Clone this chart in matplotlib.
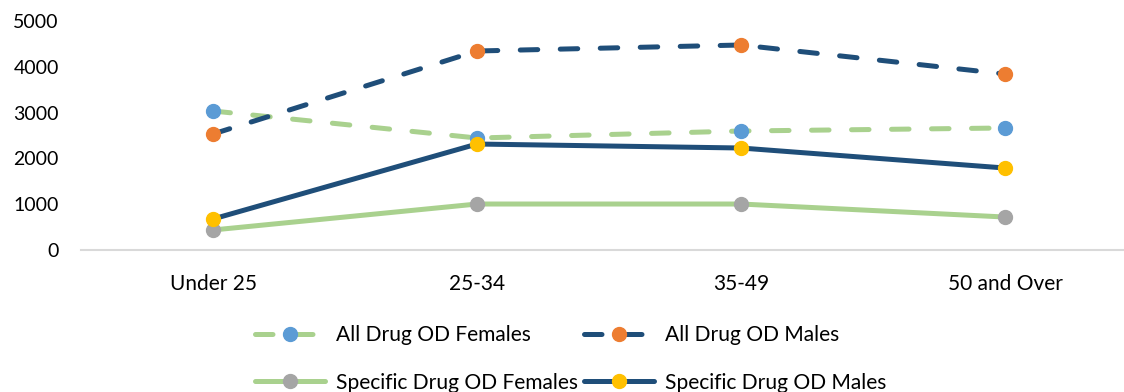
# Overdose counts by age group - all drugs vs specific drug, by sex
import matplotlib.pyplot as plt

plt.rcParams['font.family'] = ['Lato', 'DejaVu Sans']

# data
age_groups = ["Under 25", "25-34", "35-49", "50 and Over"]
all_od_females = [3035, 2445, 2598, 2664]
all_od_males = [2533, 4345, 4476, 3843]
spec_od_females = [437, 1004, 1004, 720]
spec_od_males = [677, 2314, 2227, 1790]

# colours
green = '#A9D18E'
navy = '#1F4E79'

fig = plt.figure(figsize=(11.24, 3.92), dpi=100)
ax = fig.add_axes([81/1124, 142/392, 1056/1124, 229/392])

x = range(len(age_groups))
lw = 3.6
ms = 10

l1, = ax.plot(x, all_od_females, color=green, lw=lw, dashes=(3.5, 4.5), dash_capstyle='round',
              marker='o', ms=ms, mfc='#5B9BD5', mec='#5B9BD5', label="All Drug OD Females")
l2, = ax.plot(x, all_od_males, color=navy, lw=lw, dashes=(3.5, 4.5), dash_capstyle='round',
              marker='o', ms=ms, mfc='#ED7D31', mec='#ED7D31', label="All Drug OD Males")
l3, = ax.plot(x, spec_od_females, color=green, lw=lw, solid_capstyle='round',
              marker='o', ms=ms, mfc='#A5A5A5', mec='#A5A5A5', label="Specific Drug OD Females")
l4, = ax.plot(x, spec_od_males, color=navy, lw=lw, solid_capstyle='round',
              marker='o', ms=ms, mfc='#FFC000', mec='#FFC000', label="Specific Drug OD Males")

# axes appearance
ax.set_xlim(-0.5, 3.5)
ax.set_ylim(0, 5000)
ax.set_yticks([0, 1000, 2000, 3000, 4000, 5000])
ax.set_xticks(list(x))
ax.set_xticklabels(age_groups)
for s in ['top', 'right', 'left']:
    ax.spines[s].set_visible(False)
ax.spines['bottom'].set_color('#D9D9D9')
ax.spines['bottom'].set_linewidth(1.5)
ax.tick_params(axis='both', length=0, colors='black')
ax.tick_params(axis='y', pad=16, labelsize=14)
ax.tick_params(axis='x', pad=17, labelsize=15)

# legend filled column by column, so this order gives the two rows of the original
handles = [l1, l3, l2, l4]
fig.legend(handles=handles, labels=[h.get_label() for h in handles],
           loc='lower center', bbox_to_anchor=(0.508, -0.05), ncol=2, frameon=False,
           fontsize=15.1, handlelength=3.3, handletextpad=0.55, columnspacing=0.3,
           labelspacing=1.3)

fig.savefig('out.png', dpi=100)
